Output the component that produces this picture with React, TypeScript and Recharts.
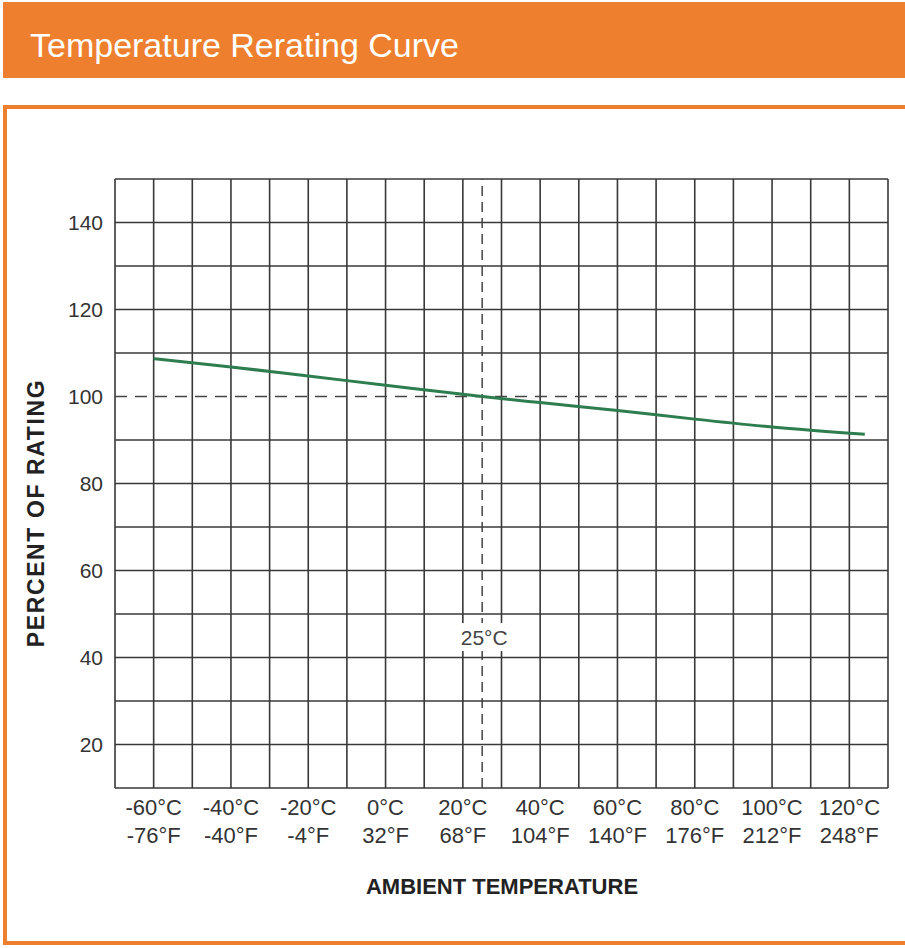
import { LineChart, Line, XAxis, YAxis, ReferenceLine, ReferenceDot } from 'recharts';

// curve (°C -> % of rating)
const tempsC = [-60, -40, -20, 0, 20, 25, 40, 60, 80, 100, 124];
const percentRating = [108.7, 106.8, 104.7, 102.6, 100.5, 100, 98.6, 96.8, 94.8, 93.0, 91.3];

const tickC = [-60, -40, -20, 0, 20, 40, 60, 80, 100, 120];
const tickF = ['-76°F', '-40°F', '-4°F', '32°F', '68°F', '104°F', '140°F', '176°F', '212°F', '248°F'];
const yTicks = [20, 40, 60, 80, 100, 120, 140];

const gridX = [-70, -60, -50, -40, -30, -20, -10, 0, 10, 20, 30, 40, 50, 60, 70, 80, 90, 100, 110, 120, 130];
const gridY = [10, 20, 30, 40, 50, 60, 70, 80, 90, 110, 120, 130, 140, 150];

const ORANGE = '#ee7f2e';
const GRID = '#383838';
const TEXT = '#333';
const FONT = "'Liberation Sans', Arial, sans-serif";

const data = tempsC.map((t, i) => ({ temp: t, pct: percentRating[i] }));

function TempTick({ x, y, payload }: any) {
  const i = tickC.indexOf(payload.value);
  return (
    <text x={x} y={y} textAnchor="middle" fontSize={22} fill={TEXT} fontFamily={FONT}>
      <tspan x={x} dy={19}>{`${payload.value}°C`}</tspan>
      <tspan x={x} dy={28}>{tickF[i]}</tspan>
    </text>
  );
}

function YTitle() {
  const cx = 36;
  const cy = 513;
  return (
    <text
      x={cx}
      y={cy}
      transform={`rotate(-90, ${cx}, ${cy})`}
      textAnchor="middle"
      dominantBaseline="central"
      fontSize={23}
      fontWeight="bold"
      letterSpacing={1.6}
      fill="#222"
      fontFamily={FONT}
    >
      PERCENT OF RATING
    </text>
  );
}

function XTitle() {
  return (
    <text x={502} y={894} textAnchor="middle" fontSize={22} fontWeight="bold" fill="#222" fontFamily={FONT}>
      AMBIENT TEMPERATURE
    </text>
  );
}

function MarkerLabel({ cx, cy }: any) {
  return (
    <g>
      <rect x={cx - 27} y={cy - 14} width={56} height={28} fill="#fff" />
      <text x={cx + 2} y={cy + 8} textAnchor="middle" fontSize={21} fill="#444" fontFamily={FONT}>
        25°C
      </text>
    </g>
  );
}

export default function App() {
  return (
    <div style={{ position: 'absolute', left: 0, top: 0, width: 905, height: 948, overflow: 'hidden', background: '#fff' }}>
      <div style={{ position: 'absolute', left: 3, top: 2, width: 902, height: 76, background: ORANGE }}>
        <div
          style={{
            position: 'absolute',
            left: 27,
            top: 23,
            color: '#fff',
            fontSize: 34,
            lineHeight: '40px',
            whiteSpace: 'nowrap',
            fontFamily: FONT,
          }}
        >
          Temperature Rerating Curve
        </div>
      </div>
      <div
        style={{
          position: 'absolute',
          left: 3,
          top: 105,
          width: 910,
          height: 840,
          boxSizing: 'border-box',
          border: `4px solid ${ORANGE}`,
        }}
      />
      <div style={{ position: 'absolute', left: 0, top: 0 }}>
        <LineChart width={905} height={948} data={data} margin={{ top: 179, right: 17, left: 0, bottom: 0 }}>
          <XAxis
            dataKey="temp"
            type="number"
            domain={[-70, 130]}
            ticks={tickC}
            interval={0}
            axisLine={false}
            tickLine={false}
            height={160}
            tick={<TempTick />}
            label={<XTitle />}
          />
          <YAxis
            type="number"
            domain={[10, 150]}
            ticks={yTicks}
            interval={0}
            axisLine={false}
            tickLine={false}
            width={115}
            tickMargin={6}
            tick={{ fontSize: 21, fill: TEXT, fontFamily: FONT }}
            label={<YTitle />}
          />
          {gridX.map((v) => (
            <ReferenceLine key={`gx${v}`} x={v} stroke={GRID} strokeWidth={1.6} />
          ))}
          {gridY.map((v) => (
            <ReferenceLine key={`gy${v}`} y={v} stroke={GRID} strokeWidth={1.6} />
          ))}
          <ReferenceLine y={100} stroke="#444" strokeWidth={1.5} strokeDasharray="12 8" />
          <ReferenceLine x={25} stroke="#444" strokeWidth={1.5} strokeDasharray="10 6" />
          <ReferenceDot x={25} y={44.7} r={0} shape={<MarkerLabel />} />
          <Line
            type="monotone"
            dataKey="pct"
            stroke="#2e7d4f"
            strokeWidth={3}
            dot={false}
            isAnimationActive={false}
          />
        </LineChart>
      </div>
    </div>
  );
}
